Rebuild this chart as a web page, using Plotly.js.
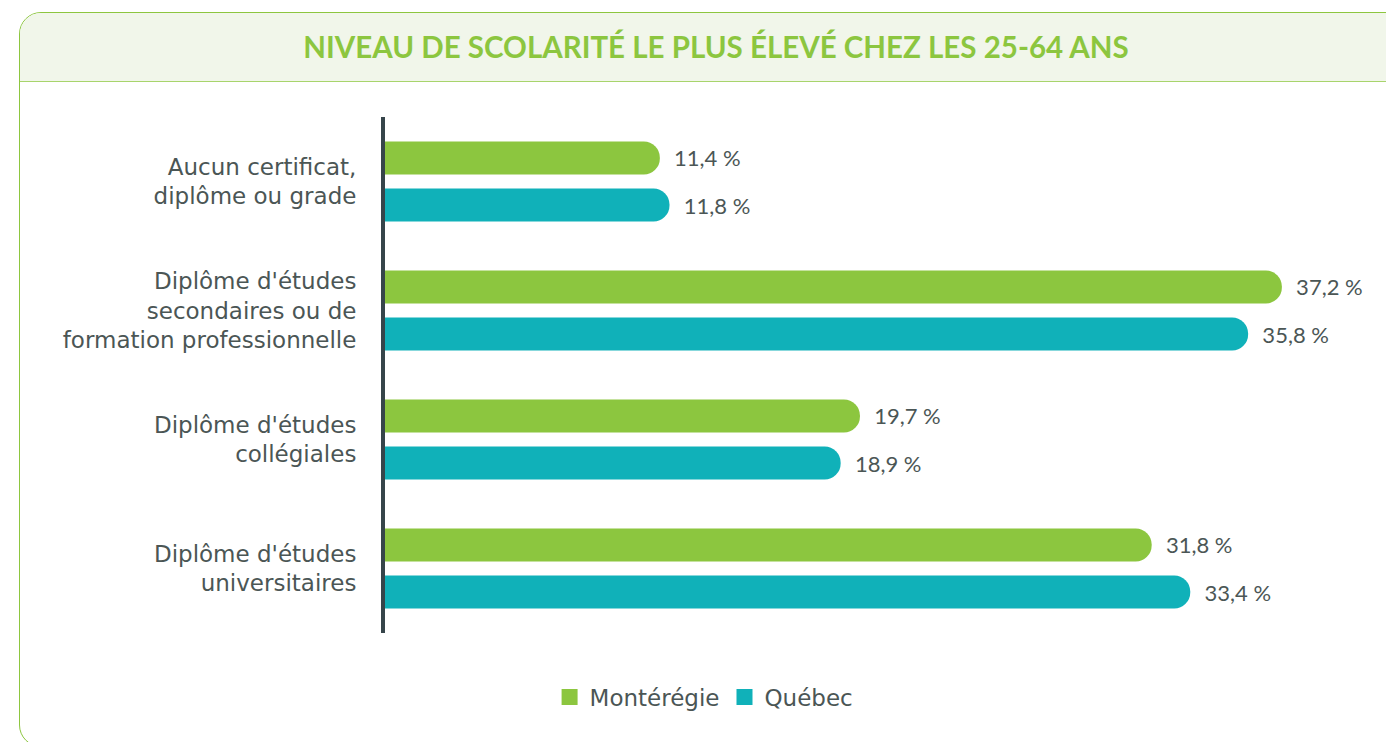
<!DOCTYPE html>
<html>
<head>
<meta charset="utf-8">
<script src="https://cdn.plot.ly/plotly-3.0.1.min.js"></script>
<style>
  html, body { margin: 0; padding: 0; width: 1386px; height: 742px; overflow: hidden; background: #ffffff; }
  #card { position: absolute; left: 19px; top: 12px; width: 1420px; height: 735px;
          border: 1.5px solid #8dc63f; border-radius: 22px; box-sizing: border-box; overflow: hidden; }
  #header { position: absolute; left: 0; top: 0; right: 0; height: 68px;
            background: #f1f6ea; border-bottom: 1.5px solid #a8d46c; }
  #chart { position: absolute; left: 0; top: 0; width: 1386px; height: 742px; }
</style>
</head>
<body>
<div id="card"><div id="header"></div></div>
<div id="chart"></div>
<script>
const categories = [
  "Aucun certificat,<br>diplôme ou grade",
  "Diplôme d'études<br>secondaires ou de<br>formation professionnelle",
  "Diplôme d'études<br>collégiales",
  "Diplôme d'études<br>universitaires"
];
const seriesNames = ["Montérégie", "Québec"];
const monteregie = [11.4, 37.2, 19.7, 31.8];
const quebec = [11.8, 35.8, 18.9, 33.4];
const colors = ["#8cc63f", "#10b1b9"];

function fmt(v) {
  return "\u00a0\u00a0" + v.toFixed(1).replace(".", ",") + " %";
}

const textColor = "#4b5655";
const labelFont = "'DejaVu Sans', sans-serif";
const valueFont = "Lato, 'Open Sans', sans-serif";

const barTraces = [monteregie, quebec].map((vals, i) => ({
  type: "bar",
  orientation: "h",
  name: seriesNames[i],
  y: categories,
  x: vals,
  marker: { color: colors[i], cornerradius: "50%" },
  text: vals.map(fmt),
  textposition: "outside",
  textfont: { family: valueFont, size: 22, color: textColor },
  constraintext: "none",
  cliponaxis: false,
  showlegend: false,
  hoverinfo: "x+name"
}));

const legendTraces = seriesNames.map((n, i) => ({
  type: "scatter",
  mode: "markers",
  name: n,
  x: [null],
  y: [categories[0]],
  marker: { symbol: "square", size: 16, color: colors[i] },
  showlegend: true,
  hoverinfo: "skip"
}));

const layout = {
  width: 1386,
  height: 742,
  paper_bgcolor: "rgba(0,0,0,0)",
  plot_bgcolor: "rgba(0,0,0,0)",
  margin: { l: 385, r: 20, t: 117, b: 109 },
  title: {
    text: "<b>NIVEAU DE SCOLARITÉ LE PLUS ÉLEVÉ CHEZ LES 25-64 ANS</b>",
    font: { family: "Lato, 'Open Sans', sans-serif", size: 29.5, color: "#8cc63f" },
    x: 716 / 1386, xanchor: "center", xref: "container",
    y: 1 - 48 / 742, yanchor: "middle", yref: "container"
  },
  barmode: "group",
  bargap: 0.27,
  bargroupgap: 0.30,
  showlegend: true,
  legend: {
    orientation: "h",
    x: 0.508, xref: "container", xanchor: "center",
    y: 1 - 697 / 742, yref: "container", yanchor: "middle",
    font: { family: labelFont, size: 23, color: textColor },
    itemsizing: "trace",
    traceorder: "normal"
  },
  xaxis: {
    range: [0, 40.69],
    showgrid: false, zeroline: false, showticklabels: false, showline: false, ticks: "",
    fixedrange: true
  },
  yaxis: {
    autorange: "reversed",
    showline: true, linewidth: 4, linecolor: "#36454a",
    showgrid: false, zeroline: false,
    ticks: "", ticklabelstandoff: 20,
    tickfont: { family: labelFont, size: 23, color: textColor },
    fixedrange: true
  },
  font: { family: labelFont, color: textColor }
};

Plotly.newPlot("chart", barTraces.concat(legendTraces), layout, { displayModeBar: false, staticPlot: true });
</script>
</body>
</html>
